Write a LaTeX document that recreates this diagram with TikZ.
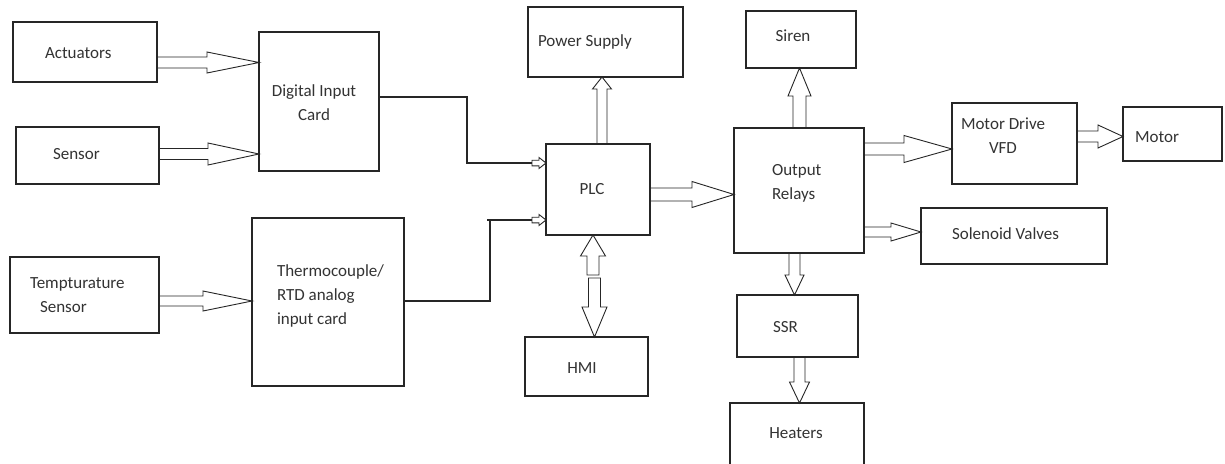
\documentclass[tikz,border=0pt]{standalone}
\usepackage{fontspec}
\setmainfont{Carlito}
\usetikzlibrary{calc}
\tikzset{
  box/.style={draw=black!85, line width=1.1pt, inner sep=0pt, outer sep=0pt},
  lbl/.style={inner sep=0pt, outer sep=0pt, font=\fontsize{17}{24}\selectfont, text=black!80},
  barrow/.style={draw=black!85, line width=0.9pt, line join=miter},
  wire/.style={draw=black!85, line width=1.1pt, line join=miter},
}
% horizontal block arrow: start, tip, shaft half, head half, head length
\newcommand\blkH[5]{\draw[barrow] ($(#1)+(0,-#3)$) -- ($(#2)+(-#5,-#3)$) -- ($(#2)+(-#5,-#4)$) -- (#2) -- ($(#2)+(-#5,#4)$) -- ($(#2)+(-#5,#3)$) -- ($(#1)+(0,#3)$) -- cycle;}
% downward block arrow
\newcommand\blkD[5]{\draw[barrow] ($(#1)+(-#3,0)$) -- ($(#2)+(-#3,-#5)$) -- ($(#2)+(-#4,-#5)$) -- (#2) -- ($(#2)+(#4,-#5)$) -- ($(#2)+(#3,-#5)$) -- ($(#1)+(#3,0)$) -- cycle;}
% upward block arrow
\newcommand\blkU[5]{\draw[barrow] ($(#1)+(-#3,0)$) -- ($(#2)+(-#3,#5)$) -- ($(#2)+(-#4,#5)$) -- (#2) -- ($(#2)+(#4,#5)$) -- ($(#2)+(#3,#5)$) -- ($(#1)+(#3,0)$) -- cycle;}
\begin{document}
\begin{tikzpicture}[x=1pt,y=-1pt]
\useasboundingbox[fill=white] (0,0) rectangle (1225,463);

% boxes
\node[box, minimum width=144, minimum height=60] (act) at (85,52) {};
\node[box, minimum width=143, minimum height=57] (sen) at (87.5,155.5) {};
\node[box, minimum width=120, minimum height=139] (dic) at (319,101.5) {};
\node[box, minimum width=149, minimum height=76] (tmp) at (84.5,295) {};
\node[box, minimum width=152, minimum height=168] (thc) at (328,302) {};
\node[box, minimum width=155, minimum height=70] (ps) at (605.5,42) {};
\node[box, minimum width=104, minimum height=91] (plc) at (598,189.5) {};
\node[box, minimum width=123, minimum height=59] (hmi) at (586.5,366.5) {};
\node[box, minimum width=110, minimum height=57] (siren) at (801,39.5) {};
\node[box, minimum width=130, minimum height=125] (out) at (799,190.5) {};
\node[box, minimum width=125, minimum height=81] (vfd) at (1014.5,143.5) {};
\node[box, minimum width=99, minimum height=54] (motor) at (1172.5,134) {};
\node[box, minimum width=186, minimum height=56] (sol) at (1014,236) {};
\node[box, minimum width=121, minimum height=62] (ssr) at (797.5,326) {};
\node[box, minimum width=134, minimum height=67] (heat) at (797,436.5) {};

% labels
\node[lbl, anchor=west] (actT) at (45,53) {Actuators};
\node[lbl, anchor=west] (senT) at (53,154) {Sensor};
\node[lbl, align=center] (dicT) at (314,103) {Digital Input\\Card};
\node[lbl, anchor=west, align=left] (tmpT) at (30,295.5) {Tempturature\\\hspace*{10pt}Sensor};
\node[lbl, anchor=west, align=left] (thcT) at (277,296) {Thermocouple/\\RTD analog\\input card};
\node[lbl, anchor=west] (psT) at (538,42) {Power Supply};
\node[lbl] (plcT) at (592,189) {PLC};
\node[lbl] (hmiT) at (582,368) {HMI};
\node[lbl] (sirenT) at (793,36) {Siren};
\node[lbl, anchor=west, align=left] (outT) at (772,183.5) {Output\\Relays};
\node[lbl, align=center] (vfdT) at (1003,135.5) {Motor Drive\\VFD};
\node[lbl, anchor=west] (motorT) at (1135,137) {Motor};
\node[lbl, anchor=west] (solT) at (952,234) {Solenoid Valves};
\node[lbl] (ssrT) at (785.5,327) {SSR};
\node[lbl] (heatT) at (796,433) {Heaters};

% block arrows
\blkH{act.east |- 0,62.5}{dic.west |- 0,62.5}{5.5}{10.5}{52}
\blkH{sen.east |- 0,154}{dic.west |- 0,154}{5.5}{11}{51}
\blkH{tmp.east |- 0,301}{thc.west |- 0,301}{5}{10}{49}
\blkH{plc.east |- 0,194.5}{out.west |- 0,194.5}{6.5}{13}{42}
\blkH{out.east |- 0,149}{vfd.west |- 0,149}{6}{13.5}{48}
\blkH{out.east |- 0,232}{sol.west |- 0,232}{5}{9}{30}
\blkH{vfd.east |- 0,136.5}{motor.west |- 0,136.5}{5.5}{11.5}{25}
\blkU{602,0 |- plc.north}{602,0 |- ps.south}{5}{9.5}{12}
\blkU{799.5,0 |- out.north}{799.5,0 |- siren.south}{6.5}{11.5}{28}
\blkD{794.5,0 |- out.south}{794.5,0 |- ssr.north}{5.5}{9.5}{20}
\blkD{799.5,0 |- ssr.south}{799.5,0 |- heat.north}{5.5}{10}{21}
\coordinate (hu) at (593,275);
\coordinate (hd) at (594.5,278);
\blkU{hu}{593,0 |- plc.south}{6}{12.5}{21}
\blkD{hd}{594.5,0 |- hmi.north}{6}{12.5}{30}

% wires with small hollow heads
\coordinate (w1) at ($(plc.west |- 0,163)+(-14,0)$);
\coordinate (w2) at ($(plc.west |- 0,220)+(-14,0)$);
\draw[wire] (dic.east |- 0,97) -| (467,163) -- (w1);
\blkH{w1}{plc.west |- 0,163}{2.8}{5.5}{7}
\draw[wire] (thc.east |- 0,301) -| (490,220);
\draw[wire] (487,220) -- (w2);
\blkH{w2}{plc.west |- 0,220}{2.8}{5.5}{7}
\end{tikzpicture}
\end{document}
